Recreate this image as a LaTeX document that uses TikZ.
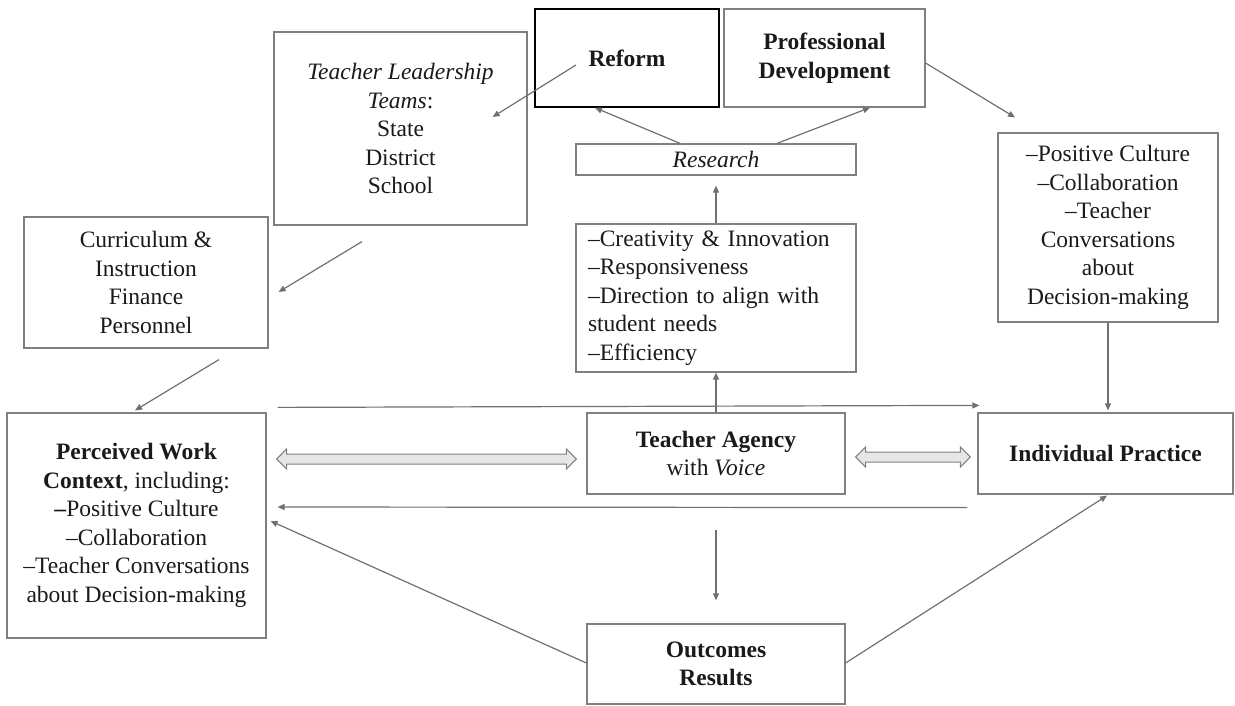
\documentclass[tikz,border=0pt]{standalone}
\usepackage{fontspec}
\setmainfont{Liberation Serif}
\usetikzlibrary{arrows.meta,calc}
\definecolor{linec}{HTML}{707070}
\definecolor{boxc}{HTML}{808080}
\definecolor{txt}{HTML}{1A1A1A}
\definecolor{dafill}{HTML}{E6E6E6}
\begin{document}
\begin{tikzpicture}[x=1pt,y=-1pt,
  box/.style={draw=boxc, line width=1.2pt, inner sep=0pt, align=center, text=txt,
    font=\fontsize{23.5}{28.5}\selectfont},
  conn/.style={draw=linec, line width=1.2pt, -{Triangle[length=7pt,width=6pt]}},
  dbl/.style={draw=boxc, fill=dafill, line width=1pt, line join=miter},
]
\useasboundingbox (0,0) rectangle (1235,706);

% boxes
\node[box, minimum width=253pt, minimum height=193pt] (tl) at (400.5,128.5)
  {\textit{Teacher Leadership}\\\textit{Teams}:\\State\\District\\School};
\node[box, draw=black, line width=1.5pt, minimum width=184pt, minimum height=98pt] (reform) at (627,58)
  {\textbf{Reform}};
\node[box, minimum width=201pt, minimum height=98pt] (pd) at (824.5,58)
  {\textbf{Professional}\\\textbf{Development}};
\node[box, minimum width=280pt, minimum height=31pt] (research) at (716,159.5)
  {\textit{Research}};
\node[box, minimum width=280pt, minimum height=148pt, text width=256pt, align=left] (creat) at (716,298)
  {–Creativity \& Innovation\\–Responsiveness\\–Direction to align with\\student needs\\–Efficiency};
\node[box, minimum width=220pt, minimum height=189pt] (right) at (1108,227.5)
  {–Positive Culture\\–Collaboration\\–Teacher\\Conversations\\about\\Decision-making};
\node[box, minimum width=244pt, minimum height=131pt] (curr) at (146,282.5)
  {Curriculum \&\\Instruction\\Finance\\Personnel};
\node[box, minimum width=259pt, minimum height=225pt] (pwc) at (136.5,525.5)
  {\textbf{Perceived Work}\\\textbf{Context}, including:\\\textbf{–}Positive Culture\\–Collaboration\\–Teacher Conversations\\about Decision-making};
\node[box, minimum width=258pt, minimum height=81pt] (ta) at (716,453.5)
  {\textbf{Teacher Agency}\\with \textit{Voice}};
\node[box, minimum width=255pt, minimum height=81pt] (ip) at (1105.5,453.5)
  {\textbf{Individual Practice}};
\node[box, minimum width=258pt, minimum height=80pt] (out) at (716,664)
  {\textbf{Outcomes}\\\textbf{Results}};

% connectors
\draw[conn] ($(reform.center)+(-51,7)$) -- ($(tl.east)+(-35,-11.5)$);
\draw[conn] ($(research.north)+(-36,0)$) -- ($(reform.south)+(-32,0)$);
\draw[conn] ($(research.north)+(61,0)$) -- ($(pd.south)+(45.5,0)$);
\draw[conn] (creat.north) -- ($(research.south)+(0,10)$);
\draw[conn] ($(pd.east)+(0,5)$) -- ($(right.north)+(-93,-15)$);
\draw[conn] ($(tl.south)+(-38.5,16)$) -- ($(curr.east)+(10,9.5)$);
\draw[conn] ($(curr.south)+(73,11)$) -- ($(pwc.north)+(-1.5,-2)$);
\draw[conn] ($(pwc.north east)+(11,-5)$) -- ($(ip.north west)+(2,-7)$);
\draw[conn] ($(ip.south west)+(-10,13)$) -- ($(pwc.east)+(11,-18.5)$);
\draw[conn] (ta.north) -- (creat.south);
\draw[conn] ($(ta.south)+(0,35)$) -- ($(out.north)+(0,-23)$);
\draw[conn] (right.south) -- ($(ip.north)+(2.5,-2)$);
\draw[conn] ($(out.west)+(0,-1)$) -- ($(pwc.east)+(4,-4.5)$);
\draw[conn] ($(out.east)+(0,-1)$) -- ($(ip.south)+(1.5,1)$);

% double arrows
\coordinate (yl) at (0,459);
\coordinate (yr) at (0,457);
\coordinate (la) at ($(pwc.east |- yl)+(10,0)$);
\coordinate (lb) at ($(ta.west |- yl)+(-10,0)$);
\coordinate (ra) at ($(ta.east |- yr)+(10,0)$);
\coordinate (rb) at ($(ip.west |- yr)+(-7,0)$);
\draw[dbl] (la) -- ($(la)+(10,-10)$) -- ($(la)+(10,-5)$) -- ($(lb)+(-10,-5)$) -- ($(lb)+(-10,-10)$)
  -- (lb) -- ($(lb)+(-10,10)$) -- ($(lb)+(-10,5)$) -- ($(la)+(10,5)$) -- ($(la)+(10,10)$) -- cycle;
\draw[dbl] (ra) -- ($(ra)+(10,-10)$) -- ($(ra)+(10,-5)$) -- ($(rb)+(-10,-5)$) -- ($(rb)+(-10,-10)$)
  -- (rb) -- ($(rb)+(-10,10)$) -- ($(rb)+(-10,5)$) -- ($(ra)+(10,5)$) -- ($(ra)+(10,10)$) -- cycle;
\end{tikzpicture}
\end{document}
